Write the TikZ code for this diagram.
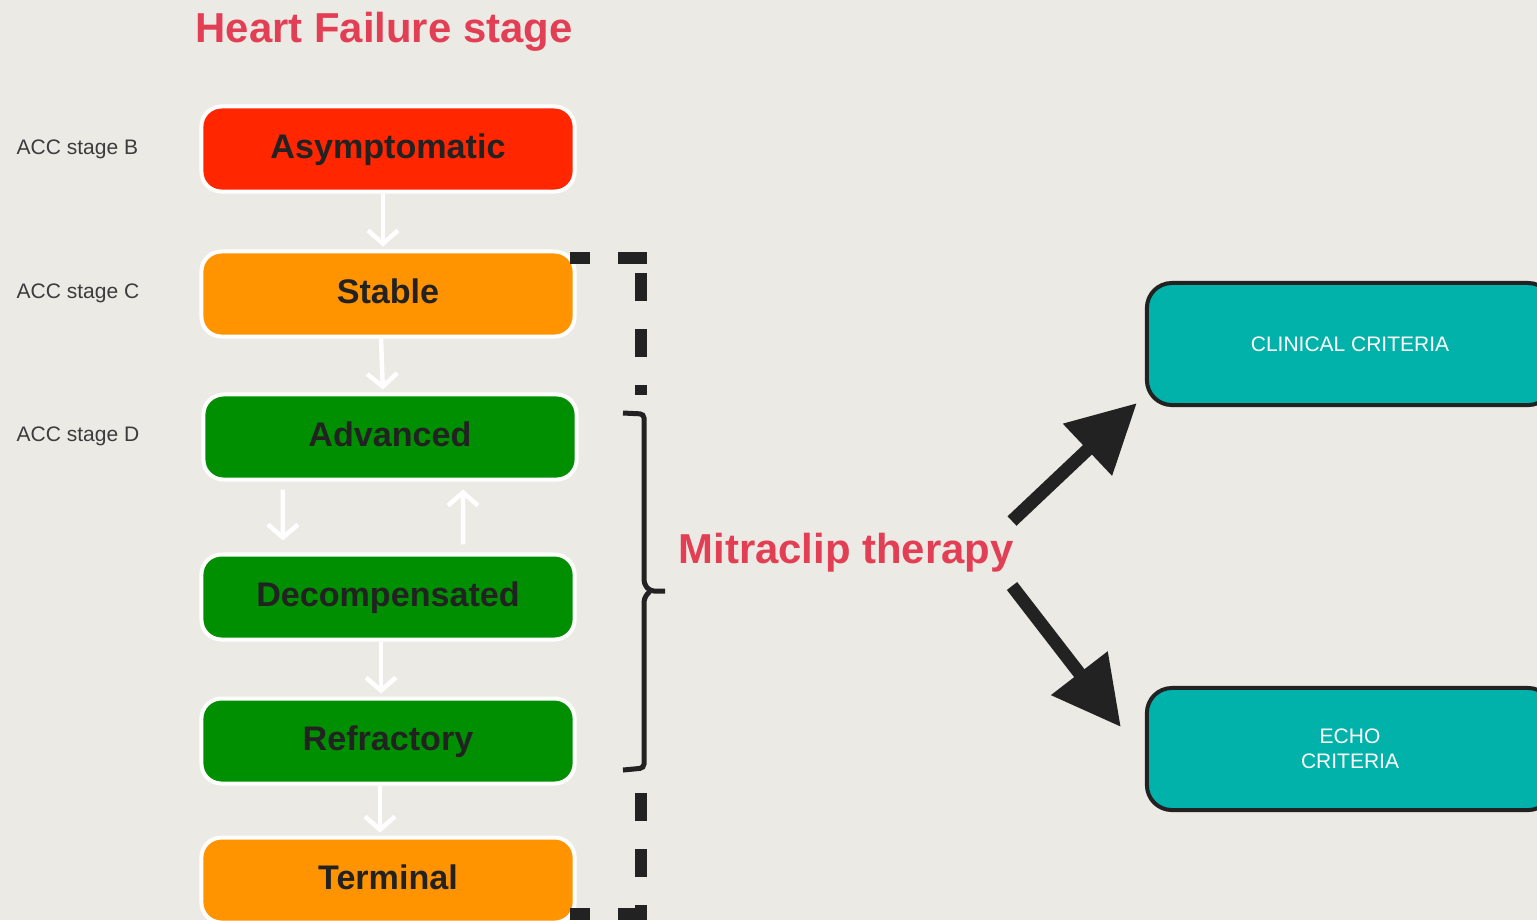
\documentclass[tikz,border=0pt]{standalone}
\usepackage{fontspec}
\setmainfont{Liberation Sans}
\usepackage{tikz}
\usetikzlibrary{shapes,arrows.meta,positioning,calc}
\definecolor{paper}{RGB}{236,234,229}
\definecolor{titlered}{RGB}{226,62,84}
\definecolor{stagered}{RGB}{255,38,0}
\definecolor{stageorange}{RGB}{255,147,0}
\definecolor{stagegreen}{RGB}{0,143,0}
\definecolor{criteriateal}{RGB}{0,178,169}
\definecolor{darkink}{RGB}{34,34,34}

\begin{document}
\begin{tikzpicture}[x=0.01cm,y=-0.01cm,
    stagebox/.style={draw=white, line width=0.04cm, rounded corners=0.2cm,
        minimum width=3.73cm, minimum height=0.85cm, text=darkink,
        text height=0.25cm, text depth=0.07cm,
        font=\fontsize{9.7}{11}\selectfont\bfseries},
    critbox/.style={draw=darkink, fill=criteriateal, line width=0.04cm,
        rounded corners=0.25cm, minimum width=4.06cm, minimum height=1.22cm,
        text=white, align=center, font=\fontsize{5.97}{7.1}\selectfont},
    acclabel/.style={anchor=west, inner sep=0pt, text=darkink!88,
        font=\fontsize{5.97}{7.1}\selectfont},
    bigtitle/.style={text=titlered, font=\fontsize{11.9}{14}\selectfont\bfseries},
    flowarrow/.style={draw=white, line width=0.045cm,
        -{Straight Barb[length=0.13cm,width=0.3cm]}},
    bigarrow/.style={draw=darkink, line width=0.13cm,
        -{Triangle[length=0.68cm,width=0.68cm]}},
    dashbar/.style={draw=darkink, line width=0.12cm}
]
    % Paper background and page size
    \clip (0,0) rectangle (1537,920);
    \fill[paper] (0,0) rectangle (1537,920);

    % Title
    \node[bigtitle] (title) at (384,32) {Heart Failure stage};

    % Stage boxes
    \node[stagebox, fill=stagered] (asym) at (388,149) {Asymptomatic};
    \node[stagebox, fill=stageorange] (stable) at (388,294) {Stable};
    \node[stagebox, fill=stagegreen] (adv) at (390,437) {Advanced};
    \node[stagebox, fill=stagegreen] (decomp) at (388,597) {Decompensated};
    \node[stagebox, fill=stagegreen] (refr) at (388,741) {Refractory};
    \node[stagebox, fill=stageorange] (term) at (388,880) {Terminal};

    % ACC labels
    \node[acclabel] (accB) at (16,149) {ACC stage B};
    \node[acclabel] (accC) at (16,293) {ACC stage C};
    \node[acclabel] (accD) at (16,436) {ACC stage D};

    % White arrows between stages
    \draw[flowarrow, shorten >=0.03cm] ([xshift=-0.05cm]asym.south) -- ([xshift=-0.05cm]stable.north);
    \draw[flowarrow, shorten >=0.03cm] ([xshift=-0.07cm]stable.south) -- ([xshift=-0.07cm]adv.north);
    \draw[flowarrow, shorten <=0.08cm, shorten >=0.12cm] ([xshift=-1.07cm]adv.south) -- ([xshift=-1.05cm]decomp.north);
    \draw[flowarrow, shorten <=0.08cm, shorten >=0.08cm] ([xshift=0.75cm]decomp.north) -- ([xshift=0.73cm]adv.south);
    \draw[flowarrow, shorten >=0.03cm] ([xshift=-0.07cm]decomp.south) -- ([xshift=-0.07cm]refr.north);
    \draw[flowarrow, shorten >=0.03cm] ([xshift=-0.08cm]refr.south) -- ([xshift=-0.08cm]term.north);

    % Dashed guide at top and bottom
    \foreach \ya/\yb in {273/301, 329/357, 385/395, 793/821, 849/877, 905/920}
        \draw[dashbar] (641,\ya) -- (641,\yb);
    \foreach \xa/\xb in {570/590, 618/647} {
        \draw[dashbar] (\xa,258) -- (\xb,258);
        \draw[dashbar] (\xa,914) -- (\xb,914);
    }

    % Brace round the green stages
    \draw[darkink, line width=0.05cm, rounded corners=0.04cm]
        (623,413) -- (644,414) -- (644,584) -- (650,591) -- (665,591);
    \draw[darkink, line width=0.05cm, rounded corners=0.04cm]
        (650,591) -- (644,598) -- (644,768) -- (623,770);

    % Therapy and criteria
    \node[bigtitle] (therapy) at (846,553) {Mitraclip therapy};
    \node[critbox] (clin) at (1350,344) {CLINICAL CRITERIA};
    \node[critbox] (echo) at (1350,749) {ECHO\\CRITERIA};

    \coordinate (tup) at (1012,521);
    \coordinate (tdown) at (1012,586);
    \draw[bigarrow] (tup) -- ([shift={(-8,-4)}]clin.south west);
    \draw[bigarrow] (tdown) -- ([shift={(-24,-22)}]echo.west);
\end{tikzpicture}
\end{document}
